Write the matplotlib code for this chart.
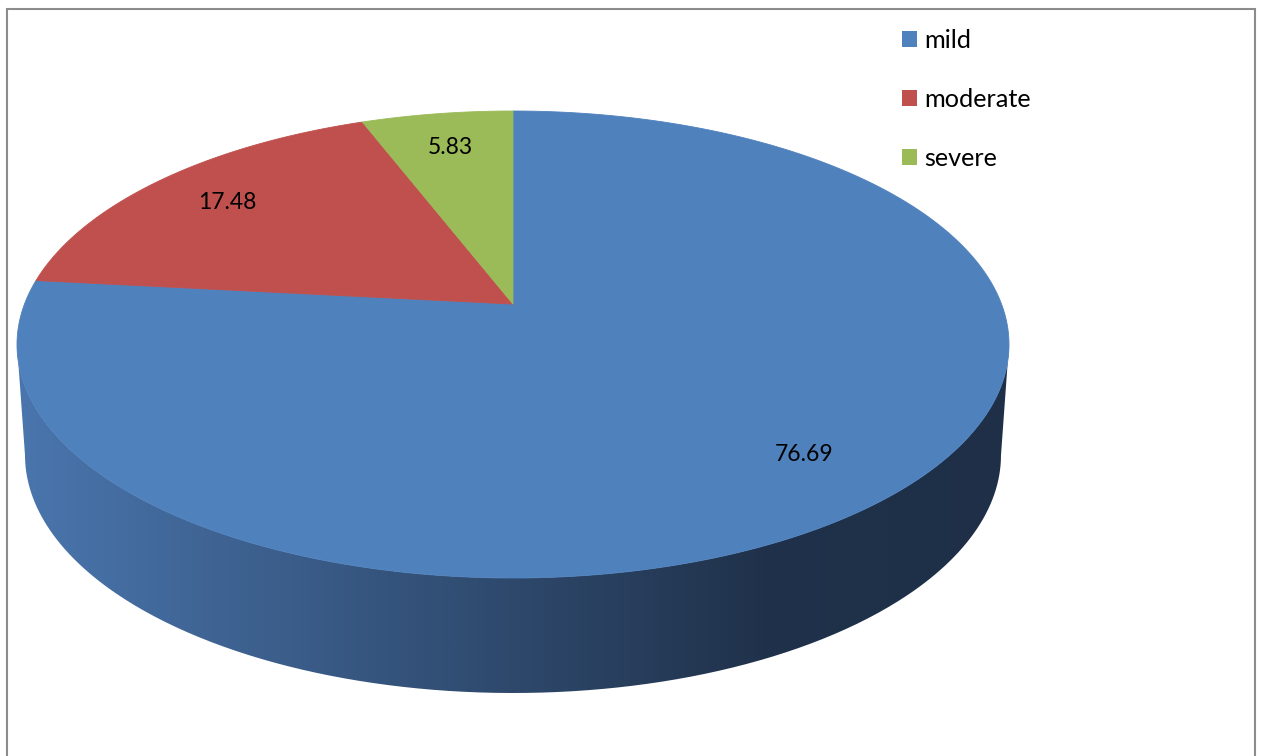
import numpy as np
import matplotlib
matplotlib.use("Agg")
import matplotlib.pyplot as plt
from matplotlib.path import Path
from matplotlib.patches import Patch, PathPatch, Rectangle
from matplotlib.transforms import Transform
from matplotlib.colors import LinearSegmentedColormap

labels = ["mild", "moderate", "severe"]
values = [76.69, 17.48, 5.83]
colors = ["#4F81BD", "#C0504D", "#9BBB59"]

plt.rcParams['font.family'] = ['Lato', 'DejaVu Sans']


class Perspective(Transform):
    # tilts the flat pie like excel's 3d view (unit circle stays unit circle,
    # centre moves up by c)
    input_dims = 2
    output_dims = 2

    def __init__(self, c):
        super().__init__()
        self.c = c
        self.s = np.sqrt(1 - c * c)

    def transform_non_affine(self, values):
        xy = np.asarray(values, dtype=float).reshape(-1, 2)
        den = 1 + self.c * xy[:, 1]
        return np.column_stack([xy[:, 0] * self.s / den, (xy[:, 1] + self.c) / den])

    def transform_path_non_affine(self, path):
        verts, codes = [], []
        cur = start = None
        t = np.linspace(0, 1, 30)[1:, None]
        for seg, code in path.iter_segments(simplify=False, curves=True):
            if code == Path.MOVETO:
                cur = start = seg[-2:]
                verts.append(cur)
                codes.append(Path.MOVETO)
            elif code == Path.LINETO:
                cur = seg[-2:]
                verts.append(cur)
                codes.append(Path.LINETO)
            elif code == Path.CURVE3:
                p1, p2 = seg[0:2], seg[2:4]
                b = (1 - t) ** 2 * cur + 2 * (1 - t) * t * p1 + t ** 2 * p2
                verts.extend(b)
                codes.extend([Path.LINETO] * len(b))
                cur = p2
            elif code == Path.CURVE4:
                p1, p2, p3 = seg[0:2], seg[2:4], seg[4:6]
                b = ((1 - t) ** 3 * cur + 3 * (1 - t) ** 2 * t * p1
                     + 3 * (1 - t) * t ** 2 * p2 + t ** 3 * p3)
                verts.extend(b)
                codes.extend([Path.LINETO] * len(b))
                cur = p3
            elif code == Path.CLOSEPOLY:
                verts.append(start)
                codes.append(Path.CLOSEPOLY)
        return Path(self.transform_non_affine(np.array(verts)), codes)


fig = plt.figure(figsize=(12.62, 7.56), dpi=100)
ax = fig.add_axes([0, 0, 1, 1])

wedges, texts, autotexts = ax.pie(values, colors=colors, startangle=90, counterclock=False,
                                  autopct='%.2f', pctdistance=0.8,
                                  wedgeprops=dict(linewidth=0.6),
                                  textprops=dict(fontsize=16.5, color='black'))
persp = Perspective(0.173)
for w in wedges:
    w.set_edgecolor(w.get_facecolor())
    w.set_transform(persp + ax.transData)
    w.set_zorder(2)
for t in autotexts:
    t.set_transform(persp + ax.transData)
    t.set_zorder(3)

# side of the cylinder, gradient light -> dark
th = np.linspace(np.pi, 2 * np.pi, 300)
top_u, top_v = np.cos(th), np.sin(th)
bot_u = 488 / 496 * np.cos(th[::-1])
bot_v = -110.5 / 233.5 + 238 / 233.5 * np.sin(th[::-1])
side = np.column_stack([np.r_[top_u, bot_u], np.r_[top_v, bot_v]])
side_patch = PathPatch(Path(side, closed=False), facecolor='none', edgecolor='none',
                       transform=ax.transData)
ax.add_patch(side_patch)
cmap = LinearSegmentedColormap.from_list('side', [(0, '#4a76ae'), (0.75, '#20324b'),
                                                  (1, '#1e2f47')])
grad = np.linspace(0, 1, 256)[None, :]
img = ax.imshow(grad, extent=[-1.01, 1.01, -1.6, 0.05], aspect='auto', cmap=cmap,
                zorder=0.5, interpolation='bilinear')
img.set_clip_path(side_patch)

ax.set_xlim(-513 / 496, 749 / 496)
ax.set_ylim(-411.5 / 233.5, 344.5 / 233.5)
ax.set_aspect('auto')
ax.axis('off')

handles = [Patch(facecolor=c, edgecolor='none') for c in colors]
ax.legend(handles, labels, loc='upper left', bbox_to_anchor=(902 / 1262, 1 - 29 / 756),
          bbox_transform=fig.transFigure, frameon=False, fontsize=18.2,
          handlelength=0.6, handleheight=0.6, handletextpad=0.28,
          labelspacing=1.43, borderpad=0, borderaxespad=0)

fig.add_artist(Rectangle((6.5 / 1262, -0.05), 1248 / 1262, 1.05 - 8.5 / 756,
                         transform=fig.transFigure, fill=False,
                         edgecolor='#8c8c8c', linewidth=1.5))

fig.savefig('out.png', dpi=100)
